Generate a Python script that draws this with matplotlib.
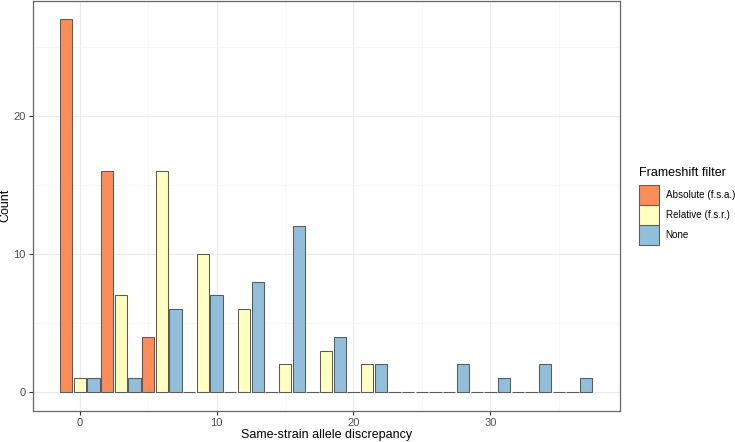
import numpy as np
import matplotlib
matplotlib.use("Agg")
import matplotlib.pyplot as plt
from matplotlib.patches import Rectangle

plt.rcParams['font.family'] = ['Liberation Sans', 'DejaVu Sans']

# histogram bins (binwidth 3), counts per frameshift filter
bin_centers = [0, 3, 6, 9, 12, 15, 18, 21, 24, 27, 30, 33, 36]
absolute = [27, 16, 4, 0, 0, 0, 0, 0, 0, 0, 0, 0, 0]
relative = [1, 7, 16, 10, 6, 2, 3, 2, 0, 0, 0, 0, 0]
none = [1, 1, 6, 7, 8, 12, 4, 2, 0, 2, 1, 2, 1]

series = [("Absolute (f.s.a.)", absolute, "#FC8D59"),
          ("Relative (f.s.r.)", relative, "#FFFFBF"),
          ("None", none, "#91BFDB")]

W, H = 735, 442
fig = plt.figure(figsize=(W / 100, H / 100), dpi=100)
ax = fig.add_axes([32.5 / W, 31.3 / H, (619.7 - 32.5) / W, 410.2 / H])

centers = np.array(bin_centers, dtype=float)
slot = 1.0
for i, (name, vals, col) in enumerate(series):
    ax.bar(centers + (i - 1) * slot, vals, width=0.9 * slot, color=col,
           edgecolor="#5a5a5a", linewidth=0.75, zorder=3)

ax.set_xlim(-3.45, 39.45)
ax.set_ylim(-1.35, 28.35)

ax.set_xticks([0, 10, 20, 30])
ax.set_xticks([5, 15, 25, 35], minor=True)
ax.set_yticks([0, 10, 20])
ax.set_yticks([5, 15, 25], minor=True)
ax.grid(True, which="major", color="#EBEBEB", linewidth=0.8, zorder=0)
ax.grid(True, which="minor", color="#F5F5F5", linewidth=0.5, zorder=0)
ax.set_axisbelow(True)

for s in ax.spines.values():
    s.set_color("#666666")
    s.set_linewidth(0.9)

ax.tick_params(which="major", length=3, width=0.8, color="#333333",
               labelsize=8, labelcolor="#4D4D4D", pad=2)
ax.tick_params(which="minor", length=0)

ax.set_xlabel("Same-strain allele discrepancy", fontsize=9, va="center")
ax.set_ylabel("Count", fontsize=9, va="center")
ax.xaxis.set_label_coords(0.5, -0.059)
ax.yaxis.set_label_coords(-0.046, 0.5)

# legend drawn in figure pixels
fig.text(639 / W, 1 - 173 / H, "Frameshift filter", fontsize=9,
         ha="left", va="center")
key_top = 185.3
for i, (name, vals, col) in enumerate(series):
    y0 = key_top + i * 19.8
    fig.patches.append(Rectangle((639 / W, 1 - (y0 + 19.8) / H),
                                 19.7 / W, 19.8 / H, transform=fig.transFigure,
                                 facecolor=col, edgecolor="#5a5a5a", linewidth=0.75))
    fig.text(665.5 / W, 1 - (y0 + 9.9) / H, name, fontsize=7.1,
             ha="left", va="center")

fig.savefig("out.png", dpi=100)
